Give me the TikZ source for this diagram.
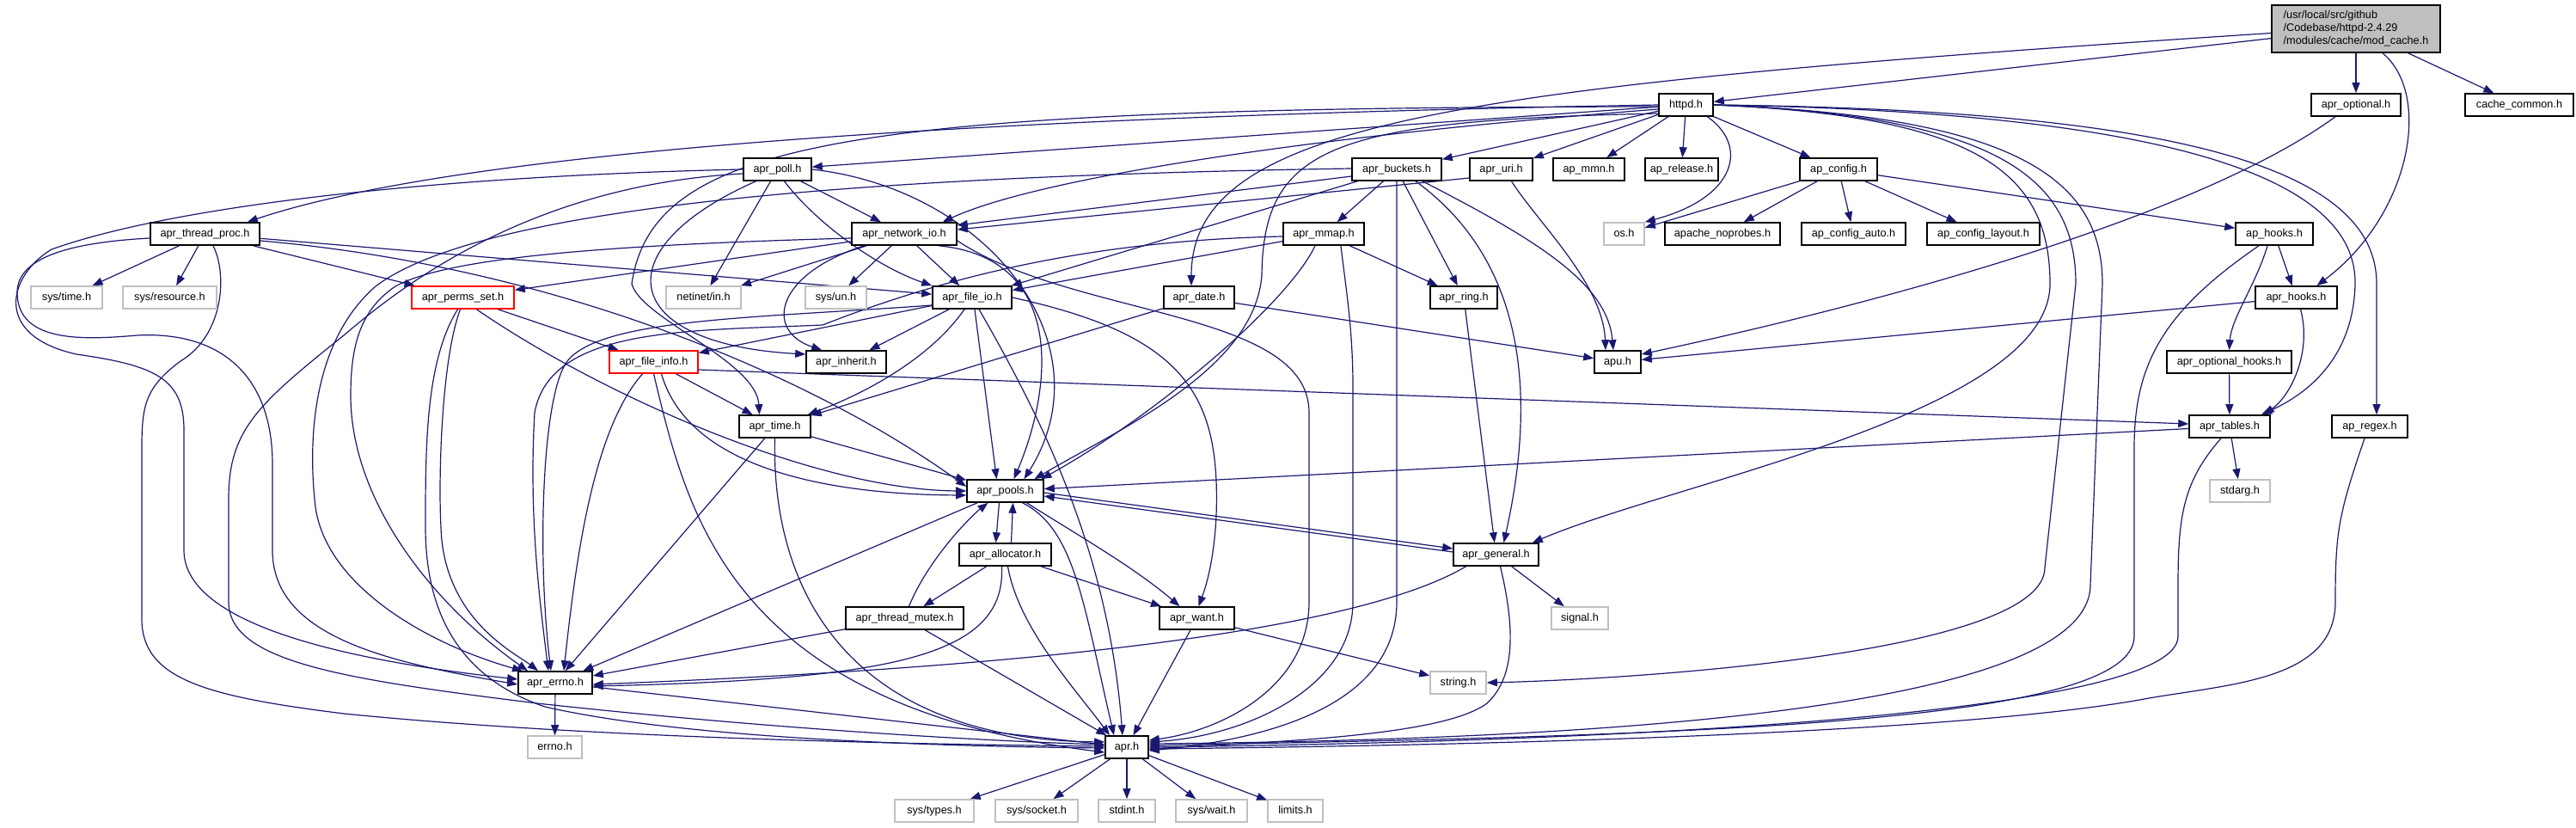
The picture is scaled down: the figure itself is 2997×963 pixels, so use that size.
\documentclass[tikz,border=0pt]{standalone}
\usepackage{fontspec}
\setmainfont{Liberation Sans}
\usetikzlibrary{arrows.meta}
\definecolor{edgec}{HTML}{191970}
\definecolor{grayb}{HTML}{BFBFBF}
\pgfdeclarelayer{edges}
\pgfsetlayers{edges,main}
\tikzset{
  nd/.style={draw=black, line width=1.6pt, fill=white, inner sep=0pt, minimum height=26pt,
    font=\fontsize{12.7pt}{15pt}\selectfont, text height=9.2pt, text depth=2.6pt},
  ext/.style={nd, draw=grayb},
  trc/.style={nd, draw=red},
  topnode/.style={draw=black, line width=1.6pt, fill=grayb, inner sep=0pt, align=left,
    font=\fontsize{12.7pt}{15pt}\selectfont, minimum width=196pt, minimum height=55pt},
  e/.style={draw=edgec, line width=1.2pt, -{Triangle[length=12pt,width=9pt]}},
}
\newcommand\nb[6]{\node[#1, minimum width={#4-#3}] (#2) at ({(#3+#4)/2},#5) {#6};}
\begin{document}
\begin{tikzpicture}[x=1pt,y=-1pt]
\useasboundingbox (0,0) rectangle (2997,963);
% ---------------- nodes ----------------
\node[topnode] (mod) at (2741,33.5) {/usr/local/src/github\\/Codebase/httpd-2.4.29\\/modules/cache/mod\_cache.h};
\nb{nd}{httpd}{1930}{1993}{122}{httpd.h}
\nb{nd}{aprop}{2689}{2793}{122}{apr\_optional.h}
\nb{nd}{cachec}{2868}{2994}{122}{cache\_common.h}
\nb{nd}{poll}{865}{944}{197}{apr\_poll.h}
\nb{nd}{buckets}{1573}{1677}{197}{apr\_buckets.h}
\nb{nd}{uri}{1710}{1783}{197}{apr\_uri.h}
\nb{nd}{mmn}{1807}{1890}{197}{ap\_mmn.h}
\nb{nd}{release}{1914}{1999}{197}{ap\_release.h}
\nb{nd}{config}{2094}{2184}{197}{ap\_config.h}
\nb{nd}{tproc}{175}{302}{272}{apr\_thread\_proc.h}
\nb{nd}{netio}{991}{1113}{272}{apr\_network\_io.h}
\nb{nd}{mmap}{1493}{1587}{272}{apr\_mmap.h}
\nb{ext}{os}{1866}{1913}{272}{os.h}
\nb{nd}{noprobes}{1937}{2071}{272}{apache\_noprobes.h}
\nb{nd}{cauto}{2096}{2217}{272}{ap\_config\_auto.h}
\nb{nd}{clayout}{2242}{2373}{272}{ap\_config\_layout.h}
\nb{nd}{aphooks}{2601}{2691}{272}{ap\_hooks.h}
\nb{ext}{systime}{36}{119}{346}{sys/time.h}
\nb{ext}{sysres}{143}{252}{346}{sys/resource.h}
\nb{trc}{perms}{479}{598}{346}{apr\_perms\_set.h}
\nb{ext}{netinet}{775}{862}{346}{netinet/in.h}
\nb{ext}{sysun}{937}{1008}{346}{sys/un.h}
\nb{nd}{fileio}{1085}{1177}{346}{apr\_file\_io.h}
\nb{nd}{date}{1354}{1436}{346}{apr\_date.h}
\nb{nd}{ring}{1664}{1742}{346}{apr\_ring.h}
\nb{nd}{aprhooks}{2624}{2719}{346}{apr\_hooks.h}
\nb{trc}{finfo}{709}{812}{421}{apr\_file\_info.h}
\nb{nd}{inherit}{938}{1031}{421}{apr\_inherit.h}
\nb{nd}{apu}{1855}{1909}{421}{apu.h}
\nb{nd}{ophooks}{2521}{2666}{421}{apr\_optional\_hooks.h}
\nb{nd}{atime}{860}{943}{496}{apr\_time.h}
\nb{nd}{tables}{2547}{2641}{496}{apr\_tables.h}
\nb{nd}{regex}{2713}{2801}{496}{ap\_regex.h}
\nb{nd}{pools}{1125}{1214}{571}{apr\_pools.h}
\nb{ext}{stdarg}{2571}{2641}{571}{stdarg.h}
\nb{nd}{alloc}{1116}{1223}{645}{apr\_allocator.h}
\nb{nd}{general}{1691}{1790}{645}{apr\_general.h}
\nb{nd}{mutex}{984}{1121}{719}{apr\_thread\_mutex.h}
\nb{nd}{want}{1349}{1436}{719}{apr\_want.h}
\nb{ext}{signal}{1805}{1871}{719}{signal.h}
\nb{nd}{aerrno}{603}{689}{794}{apr\_errno.h}
\nb{ext}{string}{1664}{1729}{794}{string.h}
\nb{ext}{cerrno}{614}{677}{869}{errno.h}
\nb{nd}{apr}{1286}{1336}{869}{apr.h}
\nb{ext}{systypes}{1041}{1133}{943}{sys/types.h}
\nb{ext}{syssock}{1158}{1254}{943}{sys/socket.h}
\nb{ext}{stdint}{1278}{1344}{943}{stdint.h}
\nb{ext}{syswait}{1368}{1451}{943}{sys/wait.h}
\nb{ext}{limits}{1475}{1539}{943}{limits.h}
% ---------------- edges ----------------
\begin{pgfonlayer}{edges}
% mod_cache.h
\draw[e] (mod) -- (httpd);
\draw[e] ([yshift=-5pt]mod.west) .. controls (1700,100) and (1386,140) .. ([xshift=-9pt]date.north);
\draw[e] (mod) -- (aprop);
\draw[e] (mod) -- (cachec);
\draw[e] ([xshift=31pt]mod.south) .. controls (2830,110) and (2805,250) .. ([xshift=24pt]aprhooks.north);
% httpd.h
\draw[e] (httpd.west) .. controls (1200,135) and (550,170) .. ([xshift=-15pt]tproc.north east);
\draw[e] (httpd) -- (poll);
\draw[e] ([yshift=-5pt]httpd.west) .. controls (1500,160) and (1200,210) .. ([xshift=-17pt]netio.north east);
\draw[e] ([yshift=-2pt]httpd.west) .. controls (1000,125) and (760,160) .. (735,330) .. controls (745,370) and (880,420) .. ([xshift=-18pt]atime.north);
\draw[e] ([yshift=-10pt]httpd.west) .. controls (1550,140) and (1470,170) .. (1468,320) .. controls (1460,430) and (1300,500) .. ([xshift=34pt]pools.north);
\draw[e] (httpd) -- (buckets);
\draw[e] (httpd) -- (uri);
\draw[e] (httpd) -- (mmn);
\draw[e] (httpd) -- (release);
\draw[e] (httpd) -- (config);
\draw[e] ([xshift=25pt]httpd.south) .. controls (2035,170) and (2020,230) .. (os.north east);
\draw[e] (httpd.east) .. controls (2300,135) and (2385,200) .. (2385,330) .. controls (2385,480) and (1950,560) .. ([xshift=-8pt]general.north east);
\draw[e] (httpd.east) .. controls (2330,135) and (2415,210) .. (2415,330) -- (2379,660) .. controls (2379,760) and (1900,790) .. (string.east);
\draw[e] (httpd.east) .. controls (2350,135) and (2446,210) .. (2446,330) -- (2432,680) .. controls (2432,820) and (1900,860) .. ([yshift=4pt]apr.east);
\draw[e] (httpd.east) .. controls (2500,130) and (2742,200) .. (2740,330) .. controls (2738,420) and (2680,460) .. ([xshift=37pt]tables.north);
\draw[e] (httpd.east) .. controls (2550,128) and (2765,200) .. (2765,330) -- ([xshift=8pt]regex.north);
% apr_optional.h
\draw[e] ([xshift=-24pt]aprop.south) .. controls (2560,250) and (2200,350) .. ([yshift=9pt]apu.east);
% ap_config.h
\draw[e] (config) -- (os);
\draw[e] (config) -- (noprobes);
\draw[e] (config) -- (cauto);
\draw[e] (config) -- (clayout);
\draw[e] (config) -- (aphooks);
% ap_hooks.h
\draw[e] (aphooks) -- (aprhooks);
\draw[e] ([xshift=-8pt]aphooks.south) .. controls (2625,330) and (2596,370) .. (ophooks.north);
\draw[e] ([xshift=-18pt]aphooks.south) .. controls (2520,360) and (2483,420) .. (2483,520) -- (2483,740) .. controls (2483,840) and (2000,855) .. ([yshift=2pt]apr.east);
% apr_hooks.h
\draw[e] (aprhooks) -- (apu);
\draw[e] ([xshift=5pt]aprhooks.south) .. controls (2690,410) and (2665,460) .. ([xshift=40pt]tables.north);
% apr_optional_hooks.h
\draw[e] (ophooks) -- (tables);
% apr_tables.h
\draw[e] (tables) -- (stdarg);
\draw[e] (tables) -- (pools);
\draw[e] ([xshift=-10pt]tables.south) .. controls (2540,560) and (2534,600) .. (2534,680) -- (2534,740) .. controls (2534,830) and (1900,862) .. (apr.east);
% ap_regex.h
\draw[e] ([xshift=-6pt]regex.south) .. controls (2720,600) and (2717,620) .. (2717,700) .. controls (2717,790) and (2600,795) .. (2500,812) .. controls (2300,850) and (1800,866) .. ([yshift=-2pt]apr.east);
% apr_date.h
\draw[e] (date) -- (apu);
\draw[e] (date) -- (atime);
% apr_uri.h
\draw[e] ([xshift=12pt]uri.south) .. controls (1790,260) and (1865,330) .. ([xshift=-14pt]apu.north);
\draw[e] ([yshift=-10pt]uri.west) -- ([yshift=5pt]netio.east);
% apr_buckets.h
\draw[e] ([yshift=-8pt]buckets.west) -- ([yshift=10pt]netio.east);
\draw[e] (buckets) -- (fileio);
\draw[e] (buckets) -- (mmap);
\draw[e] (buckets) -- (ring);
\draw[e] ([xshift=30pt]buckets.south) .. controls (1790,280) and (1870,330) .. ([xshift=-5pt]apu.north);
\draw[e] ([xshift=22pt]buckets.south) .. controls (1770,300) and (1790,450) .. ([xshift=9pt]general.north);
\draw[e] (buckets.south) -- (1625,700) .. controls (1625,830) and (1450,862) .. ([yshift=-4pt]apr.east);
\draw[e] ([yshift=1pt]buckets.west) .. controls (1000,205) and (560,240) .. (437,333) .. controls (360,400) and (360,520) .. (366,580) .. controls (372,680) and (500,750) .. ([xshift=-38pt]aerrno.north);
% apr_mmap.h
\draw[e] (mmap) -- (ring);
\draw[e] (mmap) -- (fileio);
\draw[e] ([xshift=-10pt]mmap.south) .. controls (1500,350) and (1350,480) .. ([xshift=42pt]pools.north);
\draw[e] ([yshift=-3pt]mmap.west) .. controls (1250,280) and (1080,330) .. (957,378) .. controls (800,385) and (640,380) .. (622,480) .. controls (615,600) and (628,700) .. ([xshift=-8pt]aerrno.north);
\draw[e] ([xshift=20pt]mmap.south) .. controls (1565,330) and (1574,380) .. (1574,450) -- (1574,700) .. controls (1574,800) and (1450,856) .. ([yshift=6pt]apr.east);
% apr_network_io.h
\draw[e] (netio) -- (perms);
\draw[e] (netio) -- (netinet);
\draw[e] (netio) -- (sysun);
\draw[e] (netio) -- (fileio);
\draw[e] ([xshift=-47pt]netio.south) .. controls (900,320) and (890,385) .. ([xshift=19pt]inherit.north west);
\draw[e] ([xshift=40pt]netio.south) .. controls (1240,300) and (1225,450) .. ([xshift=10pt]pools.north);
\draw[e] ([yshift=-5pt]netio.west) .. controls (700,285) and (520,300) .. (460,333) .. controls (420,360) and (408,400) .. (408,460) .. controls (408,580) and (500,700) .. ([xshift=-32pt]aerrno.north);
\draw[e] ([yshift=-8pt]netio.east) .. controls (1250,370) and (1523,360) .. (1523,480) -- (1523,700) .. controls (1523,800) and (1420,850) .. ([yshift=8pt]apr.east);
% apr_poll.h
\draw[e] (poll) -- (netio);
\draw[e] (poll) -- (netinet);
\draw[e] ([xshift=8pt]poll.south) .. controls (950,260) and (1020,310) .. (fileio.north west);
\draw[e] ([xshift=-25pt]poll.south) .. controls (700,290) and (720,400) .. ([yshift=9pt]inherit.west);
\draw[e] (poll.east) .. controls (1150,220) and (1290,400) .. ([xshift=22pt]pools.north);
\draw[e] (poll.west) .. controls (500,205) and (200,240) .. (60,290) .. controls (10,320) and (-10,390) .. (89,412) .. controls (180,425) and (214,440) .. (214,500) -- (214,640) .. controls (214,730) and (420,770) .. ([yshift=4pt]aerrno.west);
\draw[e] ([yshift=-5pt]poll.west) .. controls (620,215) and (470,330) .. (400,390) .. controls (300,470) and (266,500) .. (266,580) -- (266,700) .. controls (266,770) and (400,790) .. (625,818) .. controls (900,848) and (1150,862) .. ([yshift=3pt]apr.west);
% apr_thread_proc.h
\draw[e] (tproc) -- (systime);
\draw[e] (tproc) -- (sysres);
\draw[e] (tproc) -- (perms);
\draw[e] (tproc) -- (fileio);
\draw[e] ([yshift=-8pt]tproc.east) .. controls (650,310) and (950,440) .. ([yshift=5pt]pools.west);
\draw[e] ([yshift=-5pt]tproc.west) .. controls (80,282) and (20,300) .. (20,340) .. controls (20,400) and (100,395) .. (160,390) .. controls (260,385) and (317,440) .. (317,540) -- (317,640) .. controls (317,740) and (450,770) .. ([yshift=-2pt]aerrno.west);
\draw[e] ([xshift=9.5pt]tproc.south) .. controls (265,320) and (260,390) .. (210,420) .. controls (170,450) and (165,470) .. (165,520) -- (165,720) .. controls (165,790) and (240,810) .. (400,830) .. controls (700,860) and (1100,866) .. ([yshift=1pt]apr.west);
% apr_perms_set.h
\draw[e] (perms) -- (finfo);
\draw[e] ([xshift=16pt]perms.south) .. controls (700,460) and (950,570) .. (pools.west);
\draw[e] ([xshift=-3pt]perms.south) .. controls (513,420) and (510,560) .. (513,613) .. controls (516,720) and (600,760) .. ([xshift=-20pt]aerrno.north);
\draw[e] ([xshift=-6pt]perms.south) .. controls (495,420) and (495,520) .. (495,613) .. controls (495,720) and (540,790) .. (634,822) .. controls (800,860) and (1100,868) .. ([yshift=-1pt]apr.west);
% apr_file_io.h
\draw[e] (fileio) -- (inherit);
\draw[e] (fileio) -- (finfo);
\draw[e] ([xshift=-9pt]fileio.south) .. controls (1080,420) and (1000,460) .. ([xshift=-4pt]atime.north east);
\draw[e] ([xshift=3pt]fileio.south) -- ([xshift=-10pt]pools.north);
\draw[e] ([yshift=-9pt]fileio.west) .. controls (880,370) and (700,370) .. (660,420) .. controls (630,460) and (625,650) .. ([xshift=-5pt]aerrno.north);
\draw[e] ([xshift=8pt]fileio.south) .. controls (1220,500) and (1290,650) .. ([xshift=-5pt]apr.north);
\draw[e] (fileio.east) .. controls (1380,390) and (1420,460) .. (1415,600) .. controls (1412,660) and (1400,690) .. ([xshift=2pt]want.north);
% apr_file_info.h
\draw[e] ([yshift=-9pt]finfo.east) -- ([yshift=3pt]tables.west);
\draw[e] (finfo) -- (atime);
\draw[e] ([xshift=9pt]finfo.south) .. controls (800,540) and (950,575) .. ([yshift=-5pt]pools.west);
\draw[e] ([xshift=-13pt]finfo.south) .. controls (690,500) and (670,650) .. ([xshift=10pt]aerrno.north);
\draw[e] (finfo.south) .. controls (800,600) and (850,820) .. ([yshift=-6pt]apr.west);
% apr_time.h
\draw[e] (atime) -- (pools);
\draw[e] (atime) -- (aerrno);
\draw[e] (atime.south) .. controls (897,700) and (1000,860) .. ([yshift=6pt]apr.west);
% apr_pools.h
\draw[e] ([xshift=-7pt]pools.south) -- ([xshift=-11pt]alloc.north);
\draw[e] ([yshift=-2pt]pools.east) -- ([yshift=7pt]general.west);
\draw[e] (pools) -- (aerrno);
\draw[e] ([xshift=25pt]pools.south) .. controls (1250,620) and (1320,660) .. ([xshift=-20pt]want.north);
\draw[e] ([xshift=20pt]pools.south) .. controls (1250,615) and (1260,700) .. ([xshift=-15pt]apr.north);
% apr_allocator.h
\draw[e] ([xshift=7pt]alloc.north) -- ([xshift=9pt]pools.south);
\draw[e] (alloc) -- (mutex);
\draw[e] (alloc) -- (want);
\draw[e] ([xshift=-4pt]alloc.south) .. controls (1170,760) and (1050,790) .. ([yshift=-4pt]aerrno.east);
\draw[e] ([xshift=3pt]alloc.south) .. controls (1185,730) and (1250,800) .. ([xshift=-20pt]apr.north);
% apr_thread_mutex.h
\draw[e] ([xshift=5pt]mutex.north) .. controls (1080,650) and (1130,600) .. ([xshift=-20pt]pools.south);
\draw[e] (mutex) -- (aerrno);
\draw[e] (mutex) -- (apr);
% apr_want.h
\draw[e] (want) -- (string);
\draw[e] (want) -- (apr);
% apr_general.h
\draw[e] ([yshift=3pt]general.west) -- ([yshift=-6pt]pools.east);
\draw[e] (general) -- (signal);
\draw[e] ([xshift=-35pt]general.south) .. controls (1560,745) and (1100,780) .. ([yshift=-2pt]aerrno.east);
\draw[e] ([xshift=5pt]general.south) .. controls (1765,740) and (1760,790) .. (1730,818) .. controls (1680,855) and (1500,862) .. ([yshift=-2pt]apr.east);
% apr_ring.h
\draw[e] (ring) -- (general);
% apr_errno.h
\draw[e] (aerrno) -- (cerrno);
\draw[e] (aerrno) -- (apr);
% apr.h
\draw[e] (apr) -- (systypes);
\draw[e] (apr) -- (syssock);
\draw[e] (apr) -- (stdint);
\draw[e] (apr) -- (syswait);
\draw[e] (apr) -- (limits);
\end{pgfonlayer}
\end{tikzpicture}
\end{document}
